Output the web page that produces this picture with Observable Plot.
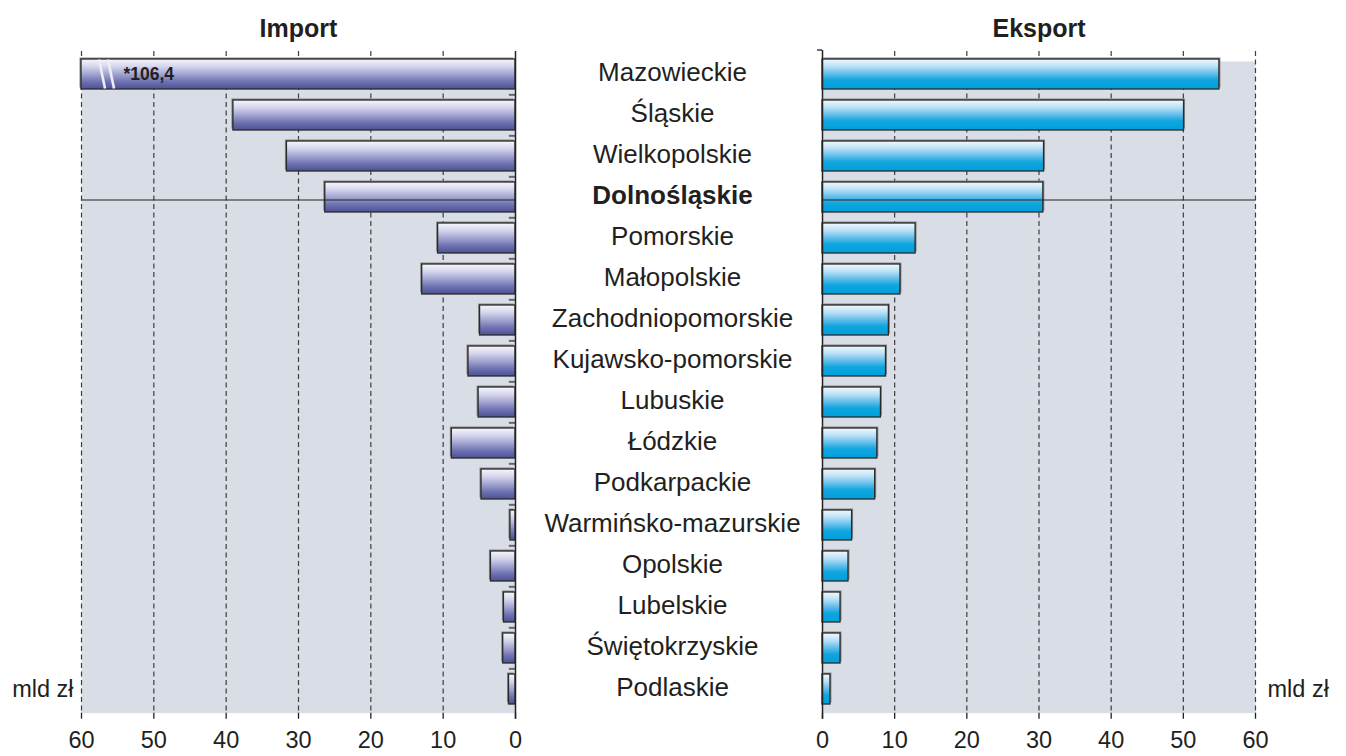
<!DOCTYPE html>
<html>
<head>
<meta charset="utf-8">
<script src="https://cdn.jsdelivr.net/npm/d3@7"></script>
<script src="https://cdn.jsdelivr.net/npm/@observablehq/plot@0.6"></script>
<style>
  body { margin: 0; background: #fff; }
  #wrap { position: relative; width: 1346px; height: 756px; overflow: hidden; }
  #wrap svg { position: absolute; top: 0; overflow: visible; }
</style>
</head>
<body>
<svg width="0" height="0" style="position:absolute">
  <defs>
    <linearGradient id="gradImp" x1="0" y1="0" x2="0" y2="1">
      <stop offset="0%" stop-color="#f7f7fc"/>
      <stop offset="25%" stop-color="#d4d5ec"/>
      <stop offset="50%" stop-color="#a3a5d1"/>
      <stop offset="75%" stop-color="#6f73b2"/>
      <stop offset="100%" stop-color="#4c5195"/>
    </linearGradient>
    <linearGradient id="gradExp" x1="0" y1="0" x2="0" y2="1">
      <stop offset="0%" stop-color="#f2f9fe"/>
      <stop offset="25%" stop-color="#b9e0f6"/>
      <stop offset="50%" stop-color="#5fbdea"/>
      <stop offset="70%" stop-color="#10a6e0"/>
      <stop offset="100%" stop-color="#009fdb"/>
    </linearGradient>
  </defs>
</svg>
<div id="wrap"></div>
<script>
// ---------- data ----------
const regions = [
  "Mazowieckie", "Śląskie", "Wielkopolskie", "Dolnośląskie", "Pomorskie",
  "Małopolskie", "Zachodniopomorskie", "Kujawsko-pomorskie", "Lubuskie",
  "Łódzkie", "Podkarpackie", "Warmińsko-mazurskie", "Opolskie", "Lubelskie",
  "Świętokrzyskie", "Podlaskie"
];
const importValues = [106.4, 39.0, 31.6, 26.3, 10.7, 12.9, 4.9, 6.5, 5.1, 8.8, 4.7, 0.7, 3.4, 1.6, 1.7, 0.9];
const exportValues = [55.0, 50.1, 30.7, 30.6, 12.9, 10.8, 9.2, 8.8, 8.1, 7.6, 7.3, 4.1, 3.6, 2.5, 2.5, 1.1];
const xTicks = [0, 10, 20, 30, 40, 50, 60];
const highlight = "Dolnośląskie";
const unitLabel = "mld zł";
const titles = ["Import", "Eksport"];
const axisMax = 60;

// ---------- layout ----------
const H = 756, mT = 51, mB = 43.3;
const step = (H - mT - mB) / regions.length;
const font = '"Liberation Sans", Arial, Helvetica, sans-serif';
const ink = "#231f20";
const bg = "#d9dde6";
const gridStyle = {stroke: "#3d3d3d", strokeWidth: 1.2, strokeDasharray: "5,3.5"};

const imp = regions.map((r, i) => ({region: r, value: importValues[i]}));
const exp = regions.map((r, i) => ({region: r, value: exportValues[i]}));
const yOpts = {domain: regions, paddingInner: 0.275, paddingOuter: 0.1375, axis: null};
const baseStyle = {fontFamily: font, fontSize: "23.5px", color: ink, background: "transparent", overflow: "visible"};

function labelMarks() {
  return [
    Plot.text(regions.filter(r => r !== highlight), {y: d => d, frameAnchor: "right", dx: 157, dy: -2, textAnchor: "middle", fontSize: 26, fill: ink}),
    Plot.text([highlight], {y: d => d, frameAnchor: "right", dx: 157, dy: -2, textAnchor: "middle", fontSize: 26, fontWeight: "bold", fill: ink})
  ];
}

// break symbol on bars exceeding the axis
function breakMark(index, scales) {
  const g = d3.create("svg:g");
  imp.filter(d => d.value > axisMax).forEach(d => {
    const y0 = scales.y(d.region), bw = scales.y.bandwidth();
    const xs = scales.x(axisMax);
    [18, 27].forEach(off => {
      g.append("line")
        .attr("x1", xs + off).attr("y1", y0 + 0.5)
        .attr("x2", xs + off + 6).attr("y2", y0 + bw - 0.5)
        .attr("stroke", "#ededf3").attr("stroke-width", 2.6);
    });
  });
  return g.node();
}

function hookMark(index, scales, values, dims) {
  const x0 = scales.x(0);
  return d3.create("svg:path")
    .attr("d", `M${x0 - 5},${dims.marginTop - 1}H${x0}`)
    .attr("stroke", "#222").attr("stroke-width", 1.3).attr("fill", "none").node();
}

const axisOpts = {anchor: "bottom", ticks: xTicks, tickSize: 6, tickPadding: 12, tickFormat: d => String(d), strokeWidth: 1.3, label: null};

const left = Plot.plot({
  width: 822, height: H,
  marginLeft: 81, marginRight: 307, marginTop: mT, marginBottom: mB,
  style: baseStyle,
  x: {domain: [0, axisMax], reverse: true, axis: null, label: null},
  y: yOpts,
  marks: [
    Plot.frame({fill: bg, stroke: null, insetTop: 10}),
    Plot.ruleX(xTicks.filter(t => t > 0), gridStyle),
    Plot.axisX(axisOpts),
    Plot.barX(imp, {y: "region", x: d => Math.min(d.value, axisMax), fill: "#8a8a8a", dx: -1.5, dy: -1.5}),
    Plot.barX(imp, {y: "region", x: d => Math.min(d.value, axisMax), fill: "url(#gradImp)", stroke: "#2a2a2a", strokeWidth: 1.3}),
    breakMark,
    Plot.text(imp.filter(d => d.value > axisMax), {
      y: "region", frameAnchor: "left", dx: 42, dy: 0, textAnchor: "start",
      text: d => "*" + String(d.value).replace(".", ","), fontWeight: "bold", fontSize: 17.5, fill: ink
    }),
    Plot.ruleY(regions.slice(1), {y: d => d, x1: 0, x2: 0.85, dy: -step / 2, stroke: "#666", strokeWidth: 2}),
    Plot.ruleY([highlight], {y: d => d, stroke: "#222", strokeWidth: 1, dy: 2.5}),
    Plot.ruleX([0], {stroke: "#222", strokeWidth: 1.5, insetBottom: -6}),
    ...labelMarks(),
    Plot.text([unitLabel], {y: () => regions[regions.length - 1], frameAnchor: "left", textAnchor: "end", dx: -8, dy: 0, fontSize: 23.5, fill: ink}),
    Plot.text([titles[0]], {frameAnchor: "top", dy: -32, fontWeight: "bold", fontSize: 25, fill: ink})
  ]
});
left.style.left = "0px";

const right = Plot.plot({
  width: 546, height: H,
  marginLeft: 22, marginRight: 91, marginTop: mT, marginBottom: mB,
  style: baseStyle,
  x: {domain: [0, axisMax], axis: null, label: null},
  y: yOpts,
  marks: [
    Plot.frame({fill: bg, stroke: null, insetTop: 10}),
    Plot.ruleX(xTicks.filter(t => t > 0), gridStyle),
    Plot.axisX(axisOpts),
    Plot.barX(exp, {y: "region", x: "value", fill: "#8a8a8a", dx: 1.5, dy: -1.5}),
    Plot.barX(exp, {y: "region", x: "value", fill: "url(#gradExp)", stroke: "#2a2a2a", strokeWidth: 1.3}),
    Plot.ruleY([highlight], {y: d => d, stroke: "#222", strokeWidth: 1, dy: 2.5}),
    Plot.ruleX([0], {stroke: "#222", strokeWidth: 1.5, insetTop: -1, insetBottom: -6}),
    hookMark,
    Plot.text([unitLabel], {y: () => regions[regions.length - 1], frameAnchor: "right", textAnchor: "start", dx: 12, dy: 0, fontSize: 23.5, fill: ink}),
    Plot.text([titles[1]], {frameAnchor: "top", dy: -32, fontWeight: "bold", fontSize: 25, fill: ink})
  ]
});
right.style.left = "800px";

const wrap = document.getElementById("wrap");
wrap.append(left, right);
</script>
</body>
</html>
